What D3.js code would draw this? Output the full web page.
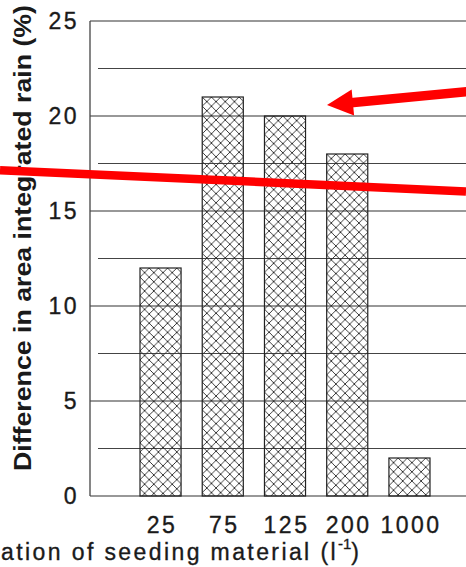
<!DOCTYPE html>
<html>
<head>
<meta charset="utf-8">
<script src="https://cdn.jsdelivr.net/npm/d3@7"></script>
<style>
  html, body { margin: 0; padding: 0; background: #fff; }
  svg { display: block; }
  text { font-family: "Liberation Sans", Arial, Helvetica, sans-serif; fill: #1a1a1a; }
  .lbl { stroke: #1a1a1a; stroke-width: 0.35px; }
</style>
</head>
<body>
<script>
// Seeding concentration categories and the resulting change in area-integrated rain
const categories = ["25", "75", "125", "200", "1000"];
const rainDifference = [12, 21, 20, 18, 2];
const yTickValues = [0, 5, 10, 15, 20, 25];
const yMinorValues = [2.5, 7.5, 12.5, 17.5, 22.5];

const width = 466, height = 567;

const svg = d3.select("body").append("svg")
  .attr("width", width)
  .attr("height", height);

const y = d3.scaleLinear().domain([0, 25]).range([496, 21]);
const x = d3.scaleBand().domain(categories).range([140, 430])
  .paddingInner(0.34).paddingOuter(0);

const axisX = 90;
const rightEdge = 480;

// Cross-hatch fill, one pattern per bar so the lattice starts at each bar's corner
const defs = svg.append("defs");
const hatch = 9.2;
categories.forEach((c, i) => {
  const p = defs.append("pattern")
    .attr("id", "hatch" + i)
    .attr("patternUnits", "userSpaceOnUse")
    .attr("x", x(c))
    .attr("y", y(rainDifference[i]))
    .attr("width", hatch)
    .attr("height", hatch);
  p.append("path")
    .attr("d", `M0,0L${hatch},${hatch}M0,${hatch}L${hatch},0M-1,1L1,-1M${hatch-1},${hatch+1}L${hatch+1},${hatch-1}`)
    .attr("stroke", "#2a2a2a")
    .attr("stroke-width", 0.9)
    .attr("fill", "none");
});

// Major grid lines (top one closes the frame)
svg.append("g").selectAll("line")
  .data(yTickValues)
  .join("line")
  .attr("x1", axisX).attr("x2", rightEdge)
  .attr("y1", d => y(d)).attr("y2", d => y(d))
  .attr("stroke", "#333")
  .attr("stroke-width", 1.2);

// Minor grid lines, inset from the axis
svg.append("g").selectAll("line")
  .data(yMinorValues)
  .join("line")
  .attr("x1", axisX + 8).attr("x2", rightEdge)
  .attr("y1", d => y(d)).attr("y2", d => y(d))
  .attr("stroke", "#444")
  .attr("stroke-width", 1.1);

// Vertical axis line
svg.append("line")
  .attr("x1", axisX).attr("x2", axisX)
  .attr("y1", y(25)).attr("y2", y(0))
  .attr("stroke", "#444")
  .attr("stroke-width", 1.3);

// Bars
svg.append("g").selectAll("rect")
  .data(categories)
  .join("rect")
  .attr("x", d => x(d))
  .attr("width", x.bandwidth())
  .attr("y", (d, i) => y(rainDifference[i]))
  .attr("height", (d, i) => y(0) - y(rainDifference[i]))
  .attr("fill", (d, i) => `url(#hatch${i})`)
  .attr("stroke", "#222")
  .attr("stroke-width", 1.2);

// Y tick labels
svg.append("g").selectAll("text")
  .data(yTickValues)
  .join("text")
  .attr("class", "lbl")
  .attr("x", 79)
  .attr("y", d => y(d))
  .attr("dy", "0.36em")
  .attr("text-anchor", "end")
  .attr("font-size", 23)
  .attr("letter-spacing", 2.5)
  .text(d => d);

// X tick labels
svg.append("g").selectAll("text")
  .data(categories)
  .join("text")
  .attr("class", "lbl")
  .attr("x", d => x(d) + x.bandwidth() / 2 + 1.5)
  .attr("y", 533)
  .attr("text-anchor", "middle")
  .attr("font-size", 23)
  .attr("letter-spacing", 2.5)
  .text(d => d);

// Axis titles
svg.append("text")
  .attr("transform", "translate(31,238) rotate(-90)")
  .attr("text-anchor", "middle")
  .attr("font-size", 23)
  .attr("font-weight", "bold")
  .attr("textLength", 466)
  .attr("lengthAdjust", "spacingAndGlyphs")
  .text("Difference in area integrated rain (%)");

const xt = svg.append("text")
  .attr("class", "lbl")
  .attr("x", 359)
  .attr("y", 560)
  .attr("text-anchor", "end")
  .attr("font-size", 23)
  .attr("letter-spacing", 2.4);
xt.append("tspan").text("Concentration of seeding material (l");
xt.append("tspan").attr("dy", -11).attr("font-size", 15).attr("letter-spacing", 0).text("-1");
xt.append("tspan").attr("dy", 11).attr("letter-spacing", 0).text(")");

// Red annotations: arrow pointing at the 125 bar, and a line across the plot
const ann = svg.append("g");
ann.append("line")
  .attr("x1", 0).attr("y1", y(17.15))
  .attr("x2", width).attr("y2", y(16.03))
  .attr("stroke", "#ff0000")
  .attr("stroke-width", 8.5);

const tip = [327, y(20.58)];
const tail = [470, y(21.3)];
const ang = Math.atan2(tail[1] - tip[1], tail[0] - tip[0]);
const headLen = 26, headHalf = 13;
const bx = tip[0] + headLen * Math.cos(ang), by = tip[1] + headLen * Math.sin(ang);
ann.append("line")
  .attr("x1", bx - 2 * Math.cos(ang)).attr("y1", by - 2 * Math.sin(ang))
  .attr("x2", tail[0]).attr("y2", tail[1])
  .attr("stroke", "#ff0000")
  .attr("stroke-width", 9.5);
ann.append("path")
  .attr("d", d3.line()([
    tip,
    [bx - headHalf * Math.sin(ang), by + headHalf * Math.cos(ang)],
    [bx + headHalf * Math.sin(ang), by - headHalf * Math.cos(ang)]
  ]) + "Z")
  .attr("fill", "#ff0000");
</script>
</body>
</html>
